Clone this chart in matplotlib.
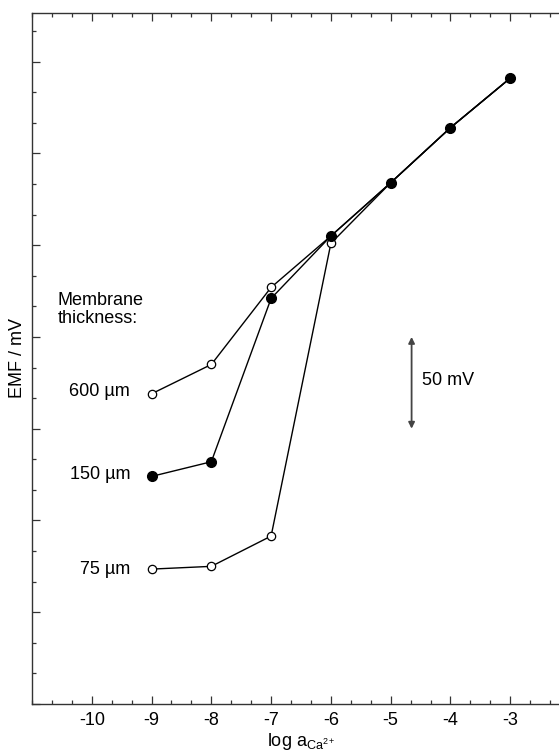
import numpy as np
import matplotlib.pyplot as plt
from matplotlib.ticker import MultipleLocator, NullFormatter

plt.rcParams['font.family'] = ['Liberation Sans', 'DejaVu Sans']
plt.rcParams['mathtext.fontset'] = 'custom'
plt.rcParams['mathtext.rm'] = 'Liberation Sans'
plt.rcParams['mathtext.it'] = 'Liberation Sans'
plt.rcParams['axes.unicode_minus'] = False

# log activity of Ca2+
log_a = [-9, -8, -7, -6, -5, -4, -3]

# EMF (mV, arbitrary offset) for each membrane thickness
emf_600 = [169, 185, 227, 255, 284, 314, 341]
emf_150 = [124, 132, 221, 255, 284, 314, 341]
emf_75 = [73.5, 75, 91.5, 251, 284, 314, 341]

labels = ['600 \u00b5m', '150 \u00b5m', '75 \u00b5m']
label_y = [170, 125, 73.5]

fig = plt.figure(figsize=(5.59, 7.53), dpi=100)
ax = fig.add_axes([32/559, 49/753, 538/559, 691/753])

ax.plot(log_a, emf_600, color='black', lw=1.0, marker='o', ms=6,
        mfc='white', mec='black', mew=0.9, zorder=3)
ax.plot(log_a, emf_75, color='black', lw=1.0, marker='o', ms=6,
        mfc='white', mec='black', mew=0.9, zorder=3)
ax.plot(log_a, emf_150, color='black', lw=1.0, marker='o', ms=7,
        mfc='black', mec='black', zorder=4)

ax.set_xlim(-11, -2)
ax.set_ylim(0, 376.5)

ax.xaxis.set_major_locator(MultipleLocator(1))
ax.xaxis.set_minor_locator(MultipleLocator(1/3))
ax.yaxis.set_major_locator(MultipleLocator(50))
ax.yaxis.set_minor_locator(MultipleLocator(50/3))
ax.yaxis.set_major_formatter(NullFormatter())
ax.set_xticks([-10, -9, -8, -7, -6, -5, -4, -3])
ax.tick_params(which='both', direction='in', top=True, right=True,
               color='#333333', width=0.9)
ax.tick_params(which='major', length=6, labelsize=13, pad=6)
ax.tick_params(which='minor', length=3)
for s in ax.spines.values():
    s.set_color('#333333')
    s.set_linewidth(1.0)

ax.set_ylabel('EMF / mV', fontsize=13)
ax.yaxis.set_label_coords(-0.012, 0.5)
ax.set_xlabel(r'log $\mathregular{a_{Ca^{2+}}}$', fontsize=13, labelpad=1)

ax.text(-10.57, 215, 'Membrane\nthickness:', fontsize=13, ha='left',
        va='center', linespacing=1.1)
for lab, y in zip(labels, label_y):
    ax.text(-9.36, y, lab, fontsize=13, ha='right', va='center')

# 50 mV scale bar
ax.annotate('', xy=(-4.65, 150), xytext=(-4.65, 200),
            arrowprops=dict(arrowstyle='<|-|>', color='#444444', lw=1.3,
                            mutation_scale=9, shrinkA=0, shrinkB=0))
ax.text(-4.47, 176, '50 mV', fontsize=13, ha='left', va='center')

fig.savefig('out.png', dpi=100)
